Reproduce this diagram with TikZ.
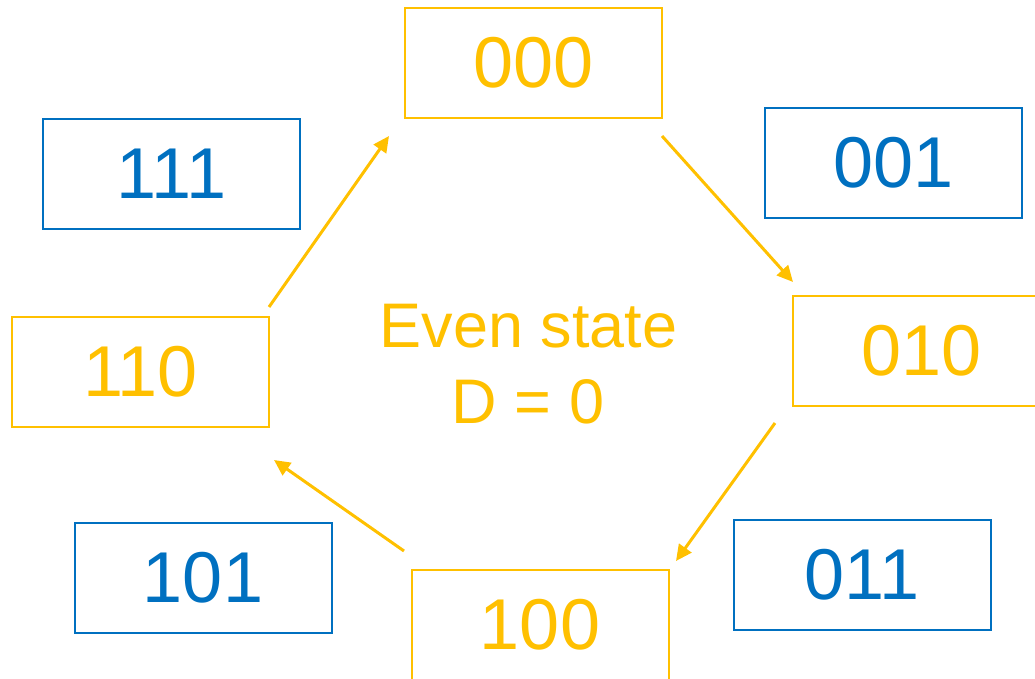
\documentclass[tikz,border=0pt]{standalone}
\usepackage{fontspec}
\setmainfont{Liberation Sans}
\usetikzlibrary{arrows.meta}
\definecolor{gold}{HTML}{FFC000}
\definecolor{blu}{HTML}{0070C0}
\tikzset{
  statebox/.style={draw, line width=2pt, minimum width=257pt, minimum height=110pt, inner sep=0pt, font=\fontsize{72}{86}\selectfont},
  evenbox/.style={statebox, draw=gold, text=gold},
  oddbox/.style={statebox, draw=blu, text=blu},
  trans/.style={draw=gold, line width=3pt, -{Triangle[length=16pt,width=15pt]}},
  lbl/.style={text=gold, anchor=base, inner sep=0pt, font=\fontsize{63}{76}\selectfont}
}
\begin{document}
\begin{tikzpicture}[x=1pt,y=-1pt]
\useasboundingbox (0,0) rectangle (1035,679);
\node[evenbox] (s000) at (533.5,63) {000};
\node[oddbox] (s001) at (893.5,163) {001};
\node[oddbox] (s111) at (171.5,174) {111};
\node[evenbox] (s010) at (921.5,351) {010};
\node[evenbox] (s110) at (140.5,372) {110};
\node[oddbox] (s101) at (203,578) {101};
\node[oddbox] (s011) at (862,575) {011};
\node[evenbox] (s100) at (540,625) {100};
\node[lbl] (even) at (528.5,347) {Even state};
\node[lbl] (dz) at (528,423) {D = 0};
\coordinate (a1) at (662,136);
\coordinate (b1) at (793,282);
\coordinate (a2) at (775,423);
\coordinate (b2) at (676,561);
\coordinate (a3) at (404,551);
\coordinate (b3) at (274,460);
\coordinate (a4) at (269,307);
\coordinate (b4) at (389,136);
\draw[trans] (a1) -- (b1);
\draw[trans] (a2) -- (b2);
\draw[trans] (a3) -- (b3);
\draw[trans] (a4) -- (b4);
\end{tikzpicture}
\end{document}
